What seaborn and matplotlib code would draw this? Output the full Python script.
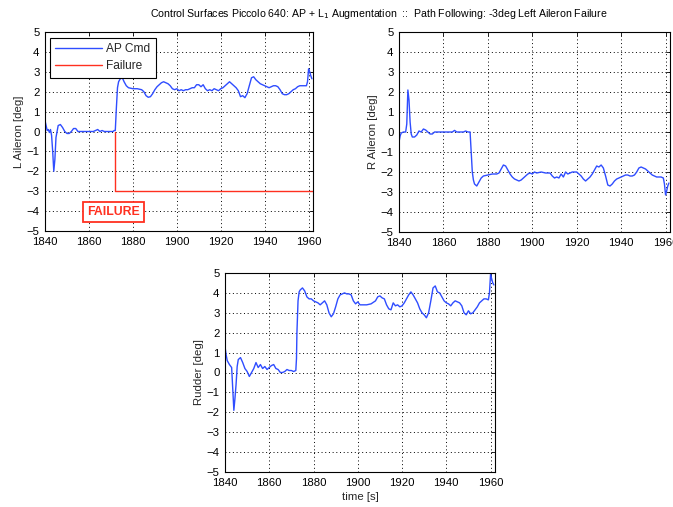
import numpy as np
import pandas as pd
import matplotlib
matplotlib.use("Agg")
import matplotlib.pyplot as plt
import seaborn as sns

# ---- time samples [s] and deflections [deg] ----
t_left = [1840, 1840.5, 1841, 1841.5, 1842, 1842.5, 1843, 1843.5, 1844, 1844.5,
          1845, 1845.5, 1846, 1847, 1848, 1849, 1850, 1851, 1852, 1853, 1854,
          1855, 1856, 1858, 1860, 1862, 1863, 1864, 1865, 1866, 1867, 1869,
          1871, 1871.5, 1872, 1872.5, 1873, 1873.5, 1874, 1875, 1876, 1877,
          1878, 1880, 1882, 1884, 1885, 1886, 1887, 1888, 1889, 1890, 1891,
          1892, 1893, 1894, 1895, 1896, 1897, 1898, 1899, 1900, 1901, 1902,
          1903, 1904, 1905, 1906, 1907, 1908, 1909, 1910, 1911, 1912, 1913,
          1914, 1915, 1916, 1917, 1918, 1919, 1920, 1921, 1922, 1923, 1924,
          1925, 1926, 1927, 1928, 1929, 1930, 1931, 1932, 1933, 1934, 1935,
          1936, 1937, 1938, 1939, 1940, 1941, 1942, 1943, 1944, 1945, 1946,
          1947, 1948, 1949, 1950, 1951, 1952, 1953, 1954, 1955, 1956, 1957,
          1958, 1959, 1959.5, 1960, 1960.5, 1961, 1961.5]
l_aileron = [0.55, 0.3, 0.05, 0.1, -0.05, 0.1, -0.2, -1.0, -2.0, -1.4,
             -0.3, 0.0, 0.3, 0.35, 0.2, 0.0, -0.1, -0.1, 0.0, 0.15, 0.15,
             0.0, 0.0, 0.0, 0.0, 0.0, 0.05, 0.1, 0.0, 0.05, 0.0, 0.0,
             0.0, 0.05, 0.05, 1.2, 2.2, 2.5, 2.6, 2.75, 2.5, 2.3,
             2.2, 2.15, 2.15, 2.1, 2.0, 1.8, 1.72, 1.75, 1.9, 2.1, 2.25,
             2.35, 2.45, 2.5, 2.45, 2.4, 2.3, 2.15, 2.1, 2.15, 2.05, 2.1,
             2.05, 2.1, 2.1, 2.15, 2.2, 2.2, 2.35, 2.35, 2.25, 2.35, 2.15,
             2.05, 2.1, 2.05, 2.15, 2.1, 2.05, 2.15, 2.2, 2.3, 2.4, 2.5,
             2.4, 2.3, 2.2, 2.05, 1.75, 1.8, 1.7, 1.9, 2.3, 2.7, 2.75,
             2.6, 2.5, 2.4, 2.35, 2.3, 2.25, 2.2, 2.25, 2.3, 2.3, 2.25,
             2.1, 1.9, 1.85, 1.85, 1.9, 2.0, 2.1, 2.15, 2.25, 2.3, 2.3,
             2.3, 2.3, 2.5, 3.15, 3.0, 2.8, 2.65]

t_fail = [1872, 1872, 1962]
fail_cmd = [0.0, -3.0, -3.0]

t_right = [1840, 1840.5, 1841, 1842, 1843, 1843.5, 1844, 1844.5, 1845, 1845.5,
           1846, 1847, 1848, 1849, 1850, 1851, 1852, 1853, 1854, 1855, 1856,
           1860, 1864, 1865, 1866, 1869, 1870, 1871, 1872, 1872.5, 1873,
           1873.5, 1874, 1875, 1876, 1877, 1878, 1880, 1882, 1884, 1885,
           1886, 1887, 1888, 1889, 1890, 1891, 1892, 1893, 1894, 1895, 1896,
           1897, 1898, 1899, 1900, 1901, 1902, 1904, 1906, 1908, 1909, 1910,
           1911, 1912, 1913, 1914, 1915, 1916, 1917, 1918, 1920, 1921, 1922,
           1923, 1924, 1925, 1926, 1927, 1928, 1929, 1930, 1931, 1932, 1933,
           1934, 1935, 1936, 1937, 1938, 1939, 1940, 1941, 1942, 1943, 1944,
           1945, 1946, 1947, 1948, 1949, 1950, 1951, 1952, 1953, 1954, 1955,
           1956, 1957, 1958, 1959, 1959.5, 1960, 1960.5, 1961, 1961.5]
r_aileron = [-0.5, -0.2, -0.05, 0.0, 0.0, 0.4, 2.1, 1.6, 0.5, -0.1,
             -0.25, -0.25, -0.15, 0.05, 0.0, 0.15, 0.1, 0.0, -0.1, -0.1, 0.0,
             0.0, 0.0, 0.08, 0.0, 0.0, 0.05, 0.0, 0.0, -1.0, -2.0,
             -2.4, -2.6, -2.7, -2.5, -2.3, -2.2, -2.15, -2.1, -2.1, -2.05,
             -1.85, -1.65, -1.7, -1.9, -2.1, -2.25, -2.35, -2.4, -2.45, -2.4, -2.3,
             -2.2, -2.1, -2.05, -2.1, -2.0, -2.05, -2.0, -2.05, -2.05, -2.2, -2.3,
             -2.25, -2.3, -2.1, -2.25, -2.0, -2.1, -2.05, -2.0, -2.0, -2.1, -2.2,
             -2.35, -2.45, -2.35, -2.25, -2.1, -1.9, -1.7, -1.75, -1.65, -1.8, -2.2,
             -2.65, -2.7, -2.6, -2.45, -2.35, -2.3, -2.25, -2.2, -2.15, -2.15, -2.2,
             -2.2, -2.15, -2.0, -1.8, -1.75, -1.8, -1.85, -1.95, -2.05, -2.15, -2.2,
             -2.25, -2.25, -2.25, -2.3, -2.6, -3.15, -2.95, -2.7, -2.55]

t_rudder = [1840, 1840.5, 1841, 1842, 1843, 1843.5, 1844, 1844.5, 1845, 1845.5,
            1846, 1847, 1848, 1849, 1850, 1851, 1852, 1853, 1854, 1855, 1856,
            1857, 1858, 1859, 1860, 1861, 1862, 1863, 1864, 1865, 1866, 1867,
            1868, 1869, 1870, 1871, 1872, 1872.3, 1872.5, 1873, 1873.5, 1874,
            1875, 1876, 1877, 1878, 1879, 1880, 1882, 1883, 1884, 1885, 1886,
            1887, 1888, 1889, 1890, 1891, 1892, 1893, 1894, 1895, 1896, 1897,
            1898, 1899, 1900, 1901, 1902, 1904, 1906, 1908, 1909, 1910, 1911,
            1912, 1913, 1914, 1915, 1916, 1917, 1918, 1919, 1920, 1921, 1922,
            1923, 1924, 1925, 1926, 1927, 1928, 1929, 1930, 1931, 1932, 1933,
            1934, 1935, 1936, 1937, 1938, 1939, 1940, 1941, 1942, 1943, 1944,
            1945, 1946, 1947, 1948, 1949, 1950, 1951, 1952, 1953, 1954, 1955,
            1956, 1957, 1958, 1959, 1959.5, 1960, 1960.5, 1961, 1961.5]
rudder = [1.3, 0.9, 0.6, 0.4, 0.25, -0.8, -1.9, -1.3, -0.6, 0.3,
          0.65, 0.75, 0.5, 0.2, 0.05, -0.2, 0.0, 0.2, 0.5, 0.25, 0.4,
          0.2, 0.3, 0.15, 0.25, 0.35, 0.4, 0.2, 0.15, 0.0, 0.0, 0.05,
          0.15, 0.1, 0.1, 0.05, 0.1, 0.7, 2.0, 3.6, 4.05, 4.15,
          4.25, 4.1, 3.8, 3.7, 3.7, 3.6, 3.5, 3.4, 3.5, 3.6, 3.4,
          3.0, 2.8, 2.95, 3.3, 3.7, 3.9, 3.95, 4.0, 3.95, 3.95, 3.9,
          3.6, 3.45, 3.55, 3.4, 3.4, 3.4, 3.45, 3.6, 3.8, 3.85, 3.75,
          3.7, 3.4, 3.2, 3.15, 3.5, 3.35, 3.4, 3.3, 3.35, 3.5, 3.7,
          3.9, 4.05, 3.9, 3.7, 3.5, 3.2, 3.0, 2.9, 2.75, 3.0, 3.6,
          4.25, 4.35, 4.05, 4.0, 3.8, 3.6, 3.5, 3.45, 3.35, 3.5, 3.6,
          3.55, 3.5, 3.35, 3.0, 2.9, 3.1, 2.95, 3.0, 3.15, 3.3, 3.5,
          3.6, 3.7, 3.7, 3.65, 4.0, 4.95, 4.7, 4.5, 4.4]

x_ticks = [1840, 1860, 1880, 1900, 1920, 1940, 1960]
y_ticks = [-5, -4, -3, -2, -1, 0, 1, 2, 3, 4, 5]

BLUE = "#2f4dff"
RED = "#ff3020"
FS = 8.2

sns.set_theme(style="white")
plt.rcParams["font.family"] = ["Liberation Sans", "DejaVu Sans"]
plt.rcParams["axes.edgecolor"] = "black"
plt.rcParams["axes.linewidth"] = 0.8

fig = plt.figure(figsize=(6.73, 5.07), dpi=100)
fig.patch.set_facecolor("white")


def style_axes(ax, ylabel, xlabel=None):
    ax.set_xlim(1840, 1962)
    ax.set_ylim(-5, 5)
    ax.set_xticks(x_ticks)
    ax.set_yticks(y_ticks)
    ax.grid(True, color="black", linestyle=(0, (1, 2.8)), linewidth=0.7)
    ax.tick_params(direction="in", top=True, right=True, length=3,
                   width=0.6, labelsize=FS, colors="black", pad=4)
    for s in ax.spines.values():
        s.set_visible(True)
        s.set_color("black")
    ax.set_ylabel(ylabel, fontsize=FS, labelpad=2)
    ax.set_xlabel(xlabel if xlabel else "", fontsize=FS, labelpad=3)


# Left aileron with the commanded failure
ax1 = fig.add_axes([45 / 673, 1 - 231 / 507, 268 / 673, 199 / 507])
df_l = pd.DataFrame({"time": t_left, "deg": l_aileron})
df_f = pd.DataFrame({"time": t_fail, "deg": fail_cmd})
sns.lineplot(data=df_l, x="time", y="deg", ax=ax1, color=BLUE, lw=1.0,
             estimator=None, sort=False, label="AP Cmd")
sns.lineplot(data=df_f, x="time", y="deg", ax=ax1, color=RED, lw=1.0,
             estimator=None, sort=False, label="Failure")
style_axes(ax1, "L Aileron [deg]")
leg = ax1.legend(loc="upper left", bbox_to_anchor=(0.019, 0.972),
                 borderaxespad=0, fontsize=8.6, frameon=True, fancybox=False,
                 framealpha=1, edgecolor="black", handlelength=3.9,
                 handletextpad=0.35, borderpad=0.45, labelspacing=0.45)
leg.get_frame().set_linewidth(0.8)
ax1.text(1871.3, -4.05, "FAILURE", color=RED, fontsize=8.8, fontweight="bold",
         ha="center", va="center",
         bbox=dict(boxstyle="square,pad=0.32", facecolor="white",
                   edgecolor=RED, linewidth=1.3))

# Right aileron
ax2 = fig.add_axes([399 / 673, 1 - 232 / 507, 271 / 673, 200 / 507])
df_r = pd.DataFrame({"time": t_right, "deg": r_aileron})
sns.lineplot(data=df_r, x="time", y="deg", ax=ax2, color=BLUE, lw=1.0,
             estimator=None, sort=False)
style_axes(ax2, "R Aileron [deg]")

# Rudder
ax3 = fig.add_axes([225 / 673, 1 - 472 / 507, 270 / 673, 199 / 507])
df_d = pd.DataFrame({"time": t_rudder, "deg": rudder})
sns.lineplot(data=df_d, x="time", y="deg", ax=ax3, color=BLUE, lw=1.0,
             estimator=None, sort=False)
style_axes(ax3, "Rudder [deg]", "time [s]")

fig.text(379 / 673, 1 - 14 / 507,
         "Control Surfaces Piccolo 640: AP + L$_1$ Augmentation  ::  "
         "Path Following: -3deg Left Aileron Failure",
         ha="center", va="center", fontsize=7.6, color="black")

fig.savefig("out.png", dpi=100, facecolor="white")
